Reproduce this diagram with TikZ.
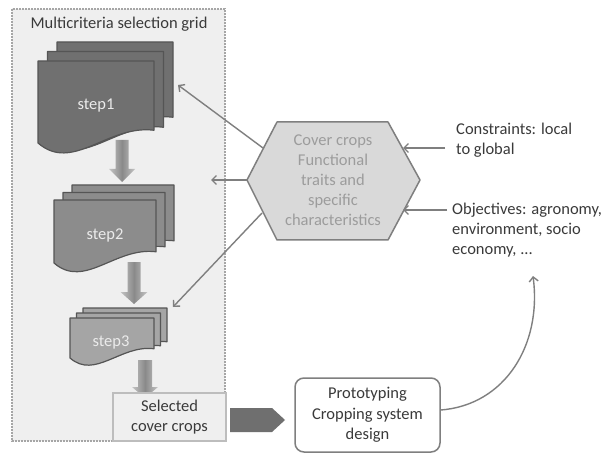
\documentclass[tikz,border=0pt]{standalone}
\usepackage{fontspec}
\setmainfont{Carlito}
\usetikzlibrary{arrows.meta}
\definecolor{bgbox}{HTML}{EFEFEF}
\definecolor{dotgray}{HTML}{A6A6A6}
\definecolor{docline}{HTML}{555555}
\definecolor{stepA}{HTML}{707070}
\definecolor{stepB}{HTML}{8C8C8C}
\definecolor{stepC}{HTML}{A5A5A5}
\definecolor{bagray}{HTML}{C4C4C4}
\definecolor{bamid}{HTML}{8A8A8A}
\definecolor{arrowgray}{HTML}{7F7F7F}
\definecolor{hexfill}{HTML}{D9D9D9}
\definecolor{hextext}{HTML}{9C9C9C}
\definecolor{maintext}{HTML}{3A3A3A}
\definecolor{darkarrow}{HTML}{6F6F6F}
\definecolor{selline}{HTML}{BDBDBD}
\newcommand\docsheet[5]{%
  \pgfmathsetmacro\dw{#4-#2}%
  \filldraw[fill=#1,draw=docline,line width=1.2pt,line join=round]
    (#2,#3) -- (#4,#3) -- (#4,{#5-0.11*\dw})
    .. controls ({#2+0.6*\dw},{#5-0.16*\dw}) and ({#2+0.3*\dw},{#5+0.26*\dw}) .. (#2,#5) -- cycle;}
\newcommand\blockdn[6]{%
  \shade[left color=bagray,right color=bagray,middle color=bamid]
    ({#1-#5/2},#2) -- ({#1+#5/2},#2) -- ({#1+#5/2},#3) -- ({#1+#6/2},#3) -- (#1,#4)
    -- ({#1-#6/2},#3) -- ({#1-#5/2},#3) -- cycle;}
\begin{document}
\begin{tikzpicture}[x=1pt,y=-1pt,
  txt/.style={font=\fontsize{16.5}{19.8}\selectfont,text=maintext,inner sep=0pt},
  steplabel/.style={font=\fontsize{16.5}{19.8}\selectfont,text=white!92!black,inner sep=0pt},
  conn/.style={draw=arrowgray,line width=1.4pt,-{Straight Barb[length=4.5pt,width=9pt]}},
  boxnode/.style={draw=arrowgray,line width=1.5pt,rounded corners=9pt,fill=white,align=center,
    minimum width=145pt,minimum height=74pt,inner sep=0pt,font=\fontsize{16.5}{20.5}\selectfont,text=maintext}]
\useasboundingbox (0,0) rectangle (607,454);
\fill[white] (0,0) rectangle (607,454);
% selection grid container
\draw[draw=dotgray,line width=1.6pt,dash pattern=on 1.6pt off 1.4pt,fill=bgbox] (12,9) rectangle (225,441);
\node[txt] (title) at (119,24) {Multicriteria selection grid};
% block arrows down
\blockdn{122}{140}{169}{182}{13}{26}
\blockdn{134}{262}{292}{304}{13}{27}
\blockdn{145}{360}{387}{398}{14}{26}
% step1 stack
\docsheet{stepA}{57}{42}{173}{130}
\docsheet{stepA}{47.5}{51.5}{163.5}{140}
\docsheet{stepA}{38}{61}{154}{143}
\node[steplabel] (step1) at (96,106) {step1};
% step2 stack
\docsheet{stepB}{72}{185}{174}{252}
\docsheet{stepB}{63}{192.5}{165}{258}
\docsheet{stepB}{54}{200}{156}{263}
\node[steplabel] (step2) at (105,235) {step2};
% step3 stack
\docsheet{stepC}{83}{308}{167}{351}
\docsheet{stepC}{76.5}{313}{160.5}{355}
\docsheet{stepC}{70}{318}{154}{358}
\node[steplabel] (step3) at (111,342) {step3};
% selected cover crops
\node[draw=selline,line width=1.2pt,fill=bgbox,minimum width=113pt,minimum height=48pt,inner sep=0pt,
  align=center,font=\fontsize{16.5}{20}\selectfont,text=maintext] (sel) at (169.5,417) {Selected\\cover crops};
% hexagon
\coordinate (hL) at (247,180);
\coordinate (hTL) at (277,122);
\coordinate (hTR) at (388,122);
\coordinate (hR) at (420,180);
\coordinate (hBR) at (388,240);
\coordinate (hBL) at (277,240);
\filldraw[fill=hexfill,draw=arrowgray,line width=1.5pt,line join=round] (hL) -- (hTL) -- (hTR) -- (hR) -- (hBR) -- (hBL) -- cycle;
\node[align=center,font=\fontsize{16.5}{20}\selectfont,text=hextext,inner sep=0pt] (hex) at (333,180)
  {Cover crops\\Functional\\traits and\\specific\\characteristics};
% arrows from hexagon
\coordinate (hUp) at (263,148);
\coordinate (hLo) at (262,213);
\coordinate (t1) at (178,85);
\coordinate (t2) at (211,180);
\coordinate (t3) at (173,307);
\draw[conn] (hUp) -- (t1);
\draw[conn] (hL) -- (t2);
\draw[conn] (hLo) -- (t3);
% right texts
\node[txt,anchor=west,align=left] (cons) at (456,140) {Constraints: local\\to global};
\node[txt,anchor=west,align=left] (obj) at (452,230) {Objectives: agronomy,\\environment, socio\\economy, ...};
\coordinate (hRup) at (403,148);
\coordinate (hRlo) at (403,210);
\draw[conn] (cons.west |- hRup) ++(-11,0) coordinate (cst) (cst) -- (hRup);
\draw[conn] (obj.west |- hRlo) ++(-5,0) coordinate (ost) (ost) -- (hRlo);
% prototyping
\node[boxnode] (proto) at (367.5,415) {Prototyping\\Cropping system\\design};
% block arrow selected -> prototyping
\coordinate (pa) at (230,408);
\coordinate (pb) at (272,408);
\coordinate (pc) at (285,420);
\coordinate (pd) at (272,432);
\coordinate (pe) at (230,432);
\fill[darkarrow] (pa) -- (pb) -- (pc) -- (pd) -- (pe) -- cycle;
% curved feedback arrow
\coordinate (cend) at (533,276);
\draw[conn] ([yshift=5pt]proto.east) .. controls (505,405) and (542,345) .. (cend);
\end{tikzpicture}
\end{document}
